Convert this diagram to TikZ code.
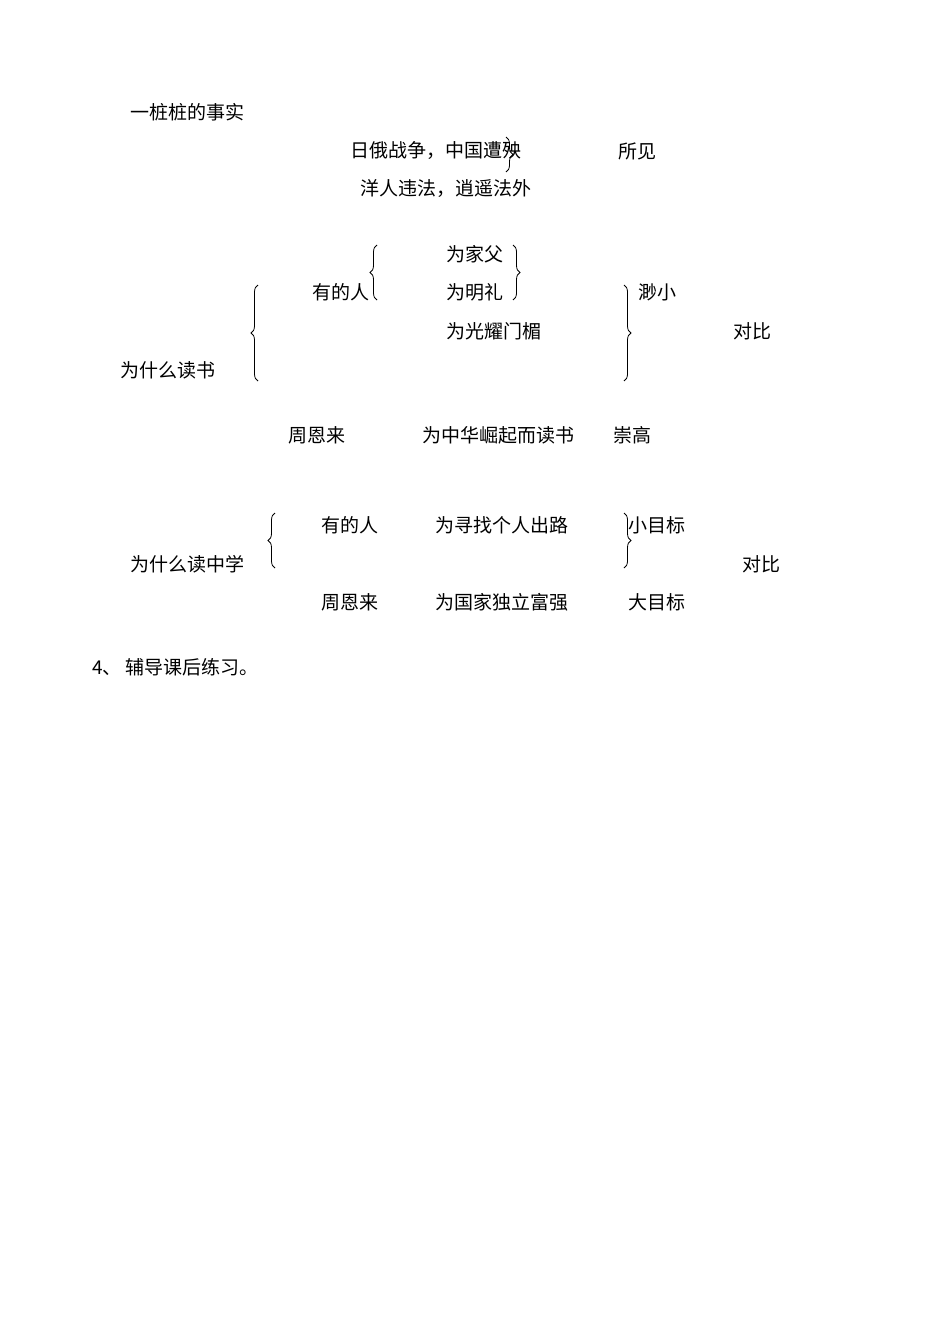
\documentclass[tikz,border=0pt]{standalone}
\usepackage{fontspec}
\newfontfamily\cjk{Noto Sans CJK SC}
\usetikzlibrary{decorations.pathreplacing}

\begin{document}
\begin{tikzpicture}[x=1pt, y=-1pt]
            \tikzstyle{word}=[anchor=west, inner sep=0pt, font=\cjk\fontsize{19}{19}\selectfont]
            \tikzstyle{curly}=[decorate, decoration={brace, amplitude=7pt}, line width=0.8pt]
            \useasboundingbox[fill=white] (0,0) rectangle (950,1344);
            % facts
            \node[word] (facts) at (130,112) {一桩桩的事实};
            \node[word] (war) at (350,151) {日俄战争，中国遭殃};
            \node[word] (seen) at (618,151) {所见};
            \node[word] (foreign) at (360,189) {洋人违法，逍遥法外};
            \draw[curly] (506,137) -- (506,172);
            % why study
            \node[word] (fam) at (446,254) {为家父};
            \node[word] (ming) at (446,292) {为明礼};
            \node[word] (glory) at (446,331) {为光耀门楣};
            \node[word] (some) at (312,292) {有的人};
            \node[word] (tiny) at (638,292) {渺小};
            \node[word] (cmp) at (733,331) {对比};
            \node[word] (why) at (120,370) {为什么读书};
            \draw[curly] (377,300) -- (377,245);
            \draw[curly] (513,245) -- (513,300);
            \draw[curly] (258,381) -- (258,285);
            \draw[curly] (624,285) -- (624,381);
            \node[word] (zhou) at (288,435) {周恩来};
            \node[word] (rise) at (422,435) {为中华崛起而读书};
            \node[word] (lofty) at (613,435) {崇高};
            % why middle school
            \node[word] (whymid) at (130,564) {为什么读中学};
            \node[word] (somemid) at (321,525) {有的人};
            \node[word] (road) at (435,525) {为寻找个人出路};
            \node[word] (small) at (628,525) {小目标};
            \node[word] (cmpmid) at (742,564) {对比};
            \node[word] (zhoumid) at (321,602) {周恩来};
            \node[word] (nation) at (435,602) {为国家独立富强};
            \node[word] (big) at (628,602) {大目标};
            \draw[curly] (275,568) -- (275,513);
            \draw[curly] (624,513) -- (624,568);
            \node[word] (task) at (92,667) {4、 辅导课后练习。};
\end{tikzpicture}
\end{document}
